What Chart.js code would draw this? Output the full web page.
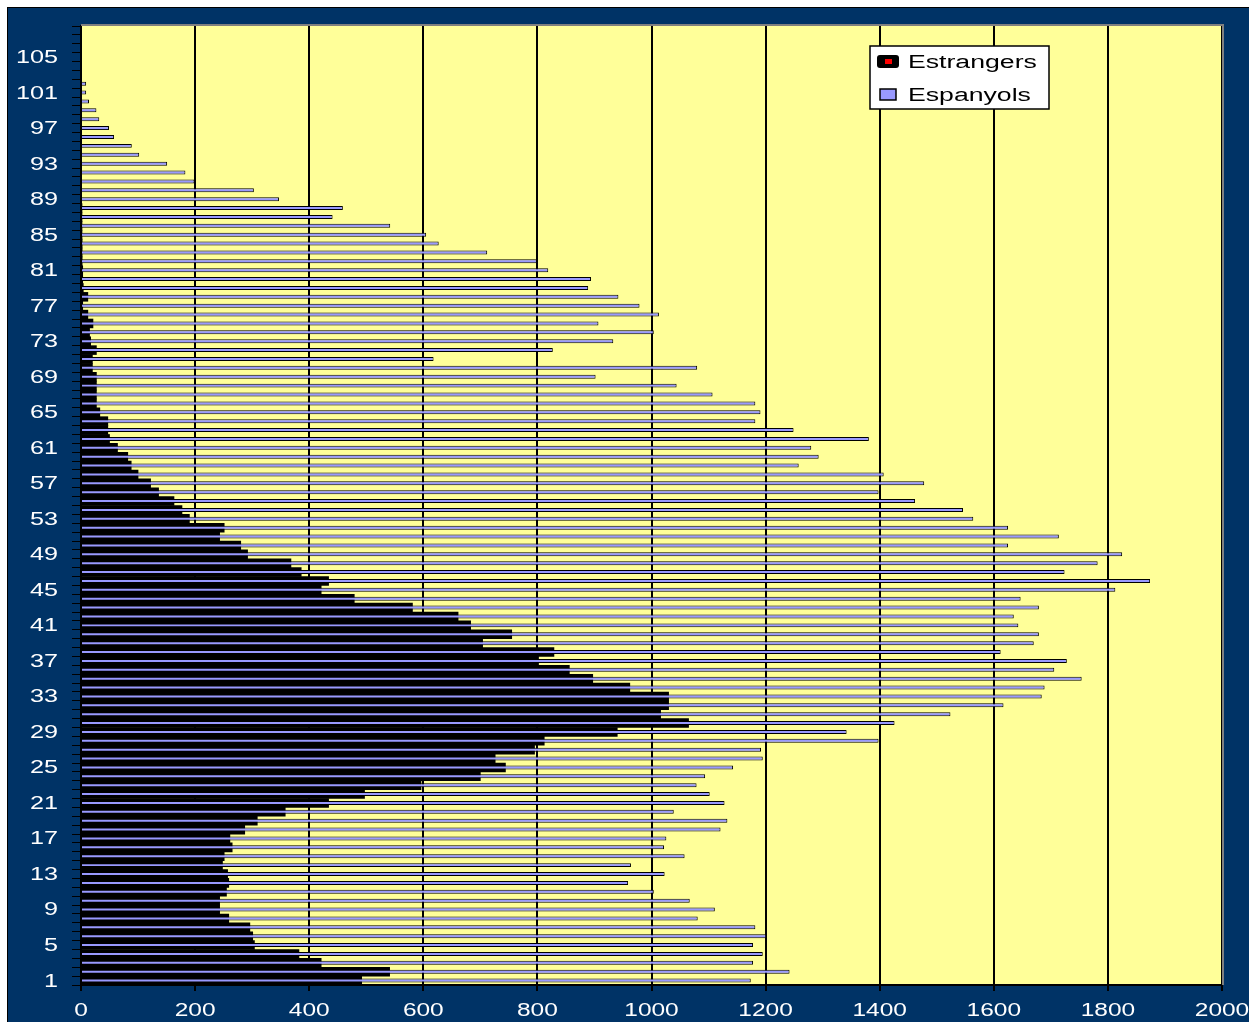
<!DOCTYPE html>
<html>
<head>
<meta charset="utf-8">
<title>Estrangers i Espanyols per edat</title>
<script src="https://cdn.jsdelivr.net/npm/chart.js@4.4.1/dist/chart.umd.min.js"></script>
<style>
  html, body { margin: 0; padding: 0; background: #fff; overflow: hidden; }
  canvas { display: block; }
</style>
</head>
<body>
<canvas id="chart1" width="1249" height="1022"></canvas>
<script>
// Ages on the category axis (bottom to top)
var ages = ['1','2','3','4','5','6','7','8','9','10','11','12','13','14','15','16','17','18','19','20',
  '21','22','23','24','25','26','27','28','29','30','31','32','33','34','35','36','37','38','39','40',
  '41','42','43','44','45','46','47','48','49','50','51','52','53','54','55','56','57','58','59','60',
  '61','62','63','64','65','66','67','68','69','70','71','72','73','74','75','76','77','78','79','80',
  '81','82','83','84','85','86','87','88','89','90','91','92','93','94','95','96','97','98','99','100',
  '101','102','103','104','105','106','107','108'];

// Spanish population per age
var espanyols = [1174,1242,1178,1195,1178,1201,1182,1081,1111,1067,1004,959,1023,964,1058,1022,1026,1121,1133,1039,
  1128,1102,1079,1094,1143,1195,1192,1398,1342,1426,1524,1617,1684,1689,1754,1706,1728,1612,1670,1679,
  1643,1635,1679,1647,1813,1874,1724,1782,1825,1625,1714,1625,1564,1546,1462,1398,1478,1407,1258,1293,
  1280,1381,1249,1182,1191,1182,1107,1044,902,1080,618,827,933,1004,907,1013,979,942,889,894,
  819,799,712,627,605,542,441,459,347,303,199,183,151,102,89,58,49,32,27,14,
  9,9,0,0,0,0,0,0];

// Foreign population per age
var estrangers = [492,541,421,382,304,301,296,259,243,243,255,259,257,248,251,265,261,287,309,358,
  434,497,596,700,744,726,795,812,940,1065,1016,1030,1030,962,897,856,802,829,704,755,
  683,661,581,479,421,434,386,368,292,280,243,251,190,177,163,136,122,100,88,82,
  64,50,47,47,33,27,27,27,27,20,20,27,17,15,21,12,3,12,4,3,
  3,2,2,2,1,1,1,1,0,0,0,0,0,0,0,0,0,0,0,0,
  0,0,0,0,0,0,0,0];

// Tick labels
var yTickLabels = ['1','5','9','13','17','21','25','29','33','37','41','45','49','53','57','61','65','69','73','77','81','85','89','93','97','101','105'];
var xTickLabels = ['0','200','400','600','800','1000','1200','1400','1600','1800','2000'];

var navy = '#003366';
var plotYellow = '#FFFF99';
var lavender = '#9999FF';

// draw text stretched sideways, like the original picture
function stretchedText(ctx, text, x, y, align, sx) {
    ctx.save();
    ctx.translate(x, y);
    ctx.scale(sx, 1);
    ctx.textAlign = align;
    ctx.textBaseline = 'middle';
    ctx.fillText(text, 0, 0);
    ctx.restore();
}

// backgrounds, frame, tick labels and legend
var decorPlugin = {
    id: 'decor',
    beforeDraw: function(chart) {
        var ctx = chart.ctx;
        var a = chart.chartArea;
        ctx.save();
        ctx.fillStyle = '#fff';
        ctx.fillRect(0, 0, chart.width, chart.height);
        ctx.fillStyle = '#000';
        ctx.fillRect(7, 7, chart.width - 7, chart.height - 7);
        ctx.fillStyle = navy;
        ctx.fillRect(8, 8, chart.width - 8, chart.height - 8);
        ctx.fillStyle = plotYellow;
        ctx.fillRect(a.left, a.top, a.right - a.left, a.bottom - a.top);
        ctx.restore();
    },
    afterDraw: function(chart) {
        var ctx = chart.ctx;
        var a = chart.chartArea;
        ctx.save();

        // grey frame on top and right of the plot
        ctx.strokeStyle = '#808080';
        ctx.lineWidth = 2;
        ctx.beginPath();
        ctx.moveTo(a.left, a.top - 1);
        ctx.lineTo(a.right + 1, a.top - 1);
        ctx.lineTo(a.right + 1, a.bottom);
        ctx.stroke();

        // tick labels
        ctx.fillStyle = '#fff';
        ctx.font = '18px "Liberation Sans", Arial, sans-serif';
        var ys = chart.scales.y;
        ys.ticks.forEach(function(t, i) {
            var lab = ages[i];
            if (yTickLabels.indexOf(lab) < 0) return;
            stretchedText(ctx, lab, 58, ys.getPixelForTick(i) + 1, 'right', 1.4);
        });
        var xs = chart.scales.x;
        xs.ticks.forEach(function(t, i) {
            stretchedText(ctx, xTickLabels[i], xs.getPixelForTick(i), 1011, 'center', 1.36);
        });

        // legend box
        var lx = 870, ly = 46, lw = 179, lh = 63;
        ctx.fillStyle = '#fff';
        ctx.fillRect(lx, ly, lw, lh);
        ctx.strokeStyle = '#000';
        ctx.lineWidth = 1.5;
        ctx.strokeRect(lx, ly, lw, lh);

        // Estrangers swatch
        ctx.fillStyle = '#000';
        ctx.beginPath();
        ctx.roundRect(877, 55, 22, 13, 3);
        ctx.fill();
        ctx.fillStyle = '#FF0000';
        ctx.fillRect(885, 59, 7, 5);

        // Espanyols swatch
        ctx.fillStyle = lavender;
        ctx.fillRect(880, 89, 16, 11);
        ctx.strokeStyle = '#000';
        ctx.lineWidth = 1.5;
        ctx.strokeRect(880, 89, 16, 11);

        ctx.fillStyle = '#000';
        ctx.font = '18px "Liberation Sans", Arial, sans-serif';
        stretchedText(ctx, chart.data.datasets[0].label, 908, 63, 'left', 1.48);
        stretchedText(ctx, chart.data.datasets[1].label, 908, 96, 'left', 1.48);
        ctx.restore();
    }
};

document.addEventListener('DOMContentLoaded', function() {
    var ctx1 = document.getElementById('chart1').getContext('2d');
    var pyramidChart = new Chart(ctx1, {
        type: 'bar',
        data: {
            labels: ages,
            datasets: [{
                label: 'Estrangers',
                data: estrangers,
                backgroundColor: '#000000',
                borderWidth: 0,
                barPercentage: 1,
                categoryPercentage: 1,
                grouped: false,
                order: 2
            }, {
                label: 'Espanyols',
                data: espanyols,
                backgroundColor: lavender,
                borderColor: '#000000',
                borderWidth: 1,
                barPercentage: 0.45,
                categoryPercentage: 1,
                grouped: false,
                order: 1
            }]
        },
        options: {
            indexAxis: 'y',
            responsive: false,
            animation: false,
            devicePixelRatio: 1,
            layout: { padding: { left: 0, top: 26, right: 27, bottom: 0 } },
            plugins: {
                legend: { display: false },
                tooltip: { enabled: false }
            },
            scales: {
                y: {
                    type: 'category',
                    reverse: true,
                    offset: true,
                    ticks: { display: false, autoSkip: false },
                    grid: {
                        drawOnChartArea: false,
                        drawTicks: true,
                        tickLength: 9,
                        color: '#000',
                        lineWidth: 1,
                        offset: true
                    },
                    border: { display: true, color: '#000', width: 2 },
                    afterFit: function(scale) { scale.width = 81; }
                },
                x: {
                    min: 0,
                    max: 2000,
                    ticks: { display: false, stepSize: 200 },
                    grid: {
                        color: '#000',
                        lineWidth: 2,
                        drawTicks: true,
                        tickLength: 6
                    },
                    border: { display: true, color: '#000', width: 2 },
                    afterFit: function(scale) { scale.height = 37; }
                }
            }
        },
        plugins: [decorPlugin]
    });
});
</script>
</body>
</html>
